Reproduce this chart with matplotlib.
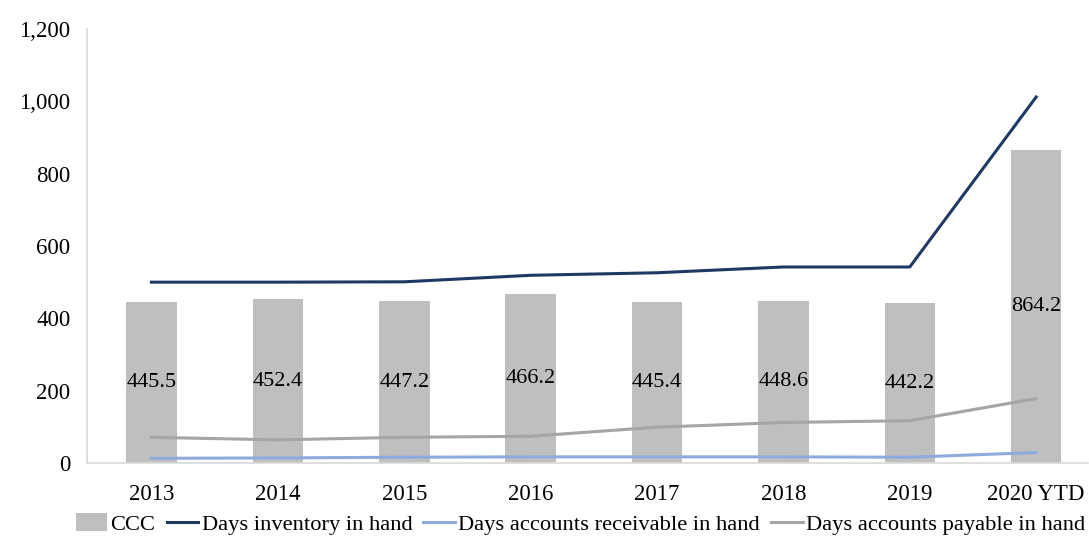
import matplotlib.pyplot as plt
from matplotlib.ticker import FuncFormatter
import numpy as np

plt.rcParams['font.family'] = ['Liberation Serif', 'DejaVu Serif']

years = ['2013', '2014', '2015', '2016', '2017', '2018', '2019', '2020 YTD']
ccc = [445.5, 452.4, 447.2, 466.2, 445.4, 448.6, 442.2, 864.2]
days_inventory = [500, 500, 501, 519, 526, 542, 542, 1012]
days_receivable = [13, 14, 16, 17, 17, 17, 16, 29]
days_payable = [71, 64, 71, 74, 99, 112, 117, 178]

x = np.arange(len(years))

fig = plt.figure(figsize=(10.89, 5.43), dpi=100)
ax = fig.add_axes([87 / 1089, 1 - 463 / 543, 1001 / 1089, 434 / 543])

bars = ax.bar(x, ccc, width=0.4, color='#BFBFBF', label='CCC', zorder=1)
l1, = ax.plot(x, days_inventory, color='#1F3864', lw=2.2, label='Days inventory in hand', zorder=3)
l2, = ax.plot(x, days_receivable, color='#8FAADC', lw=2.2, label='Days accounts receivable in hand', zorder=3)
l3, = ax.plot(x, days_payable, color='#A5A5A5', lw=2.2, label='Days accounts payable in hand', zorder=3)

# value labels sit in the middle of each bar
for xi, v in zip(x, ccc):
    ax.text(xi, v / 2, f'{v:.1f}', ha='center', va='center', fontsize=16, color='#000000', zorder=4)

ax.set_xlim(-0.51, 7.41)
ax.set_ylim(0, 1200)
ax.set_yticks(range(0, 1201, 200))
ax.yaxis.set_major_formatter(FuncFormatter(lambda v, p: f'{int(v):,}'))
ax.set_xticks(x)
ax.set_xticklabels(years)
ax.tick_params(axis='both', length=0, labelsize=16.5)
ax.tick_params(axis='x', pad=15)
ax.tick_params(axis='y', pad=12)

for s in ['top', 'right']:
    ax.spines[s].set_visible(False)
for s in ['left', 'bottom']:
    ax.spines[s].set_color('#D9D9D9')
    ax.spines[s].set_linewidth(1.2)

fig.legend(handles=[bars, l1, l2, l3], loc='center', bbox_to_anchor=(0.533, 1 - 524 / 543),
           ncol=4, frameon=False, fontsize=16.2, handlelength=1.4, handletextpad=0.15,
           columnspacing=0.5, handleheight=0.8)

fig.savefig('out.png', dpi=100)
